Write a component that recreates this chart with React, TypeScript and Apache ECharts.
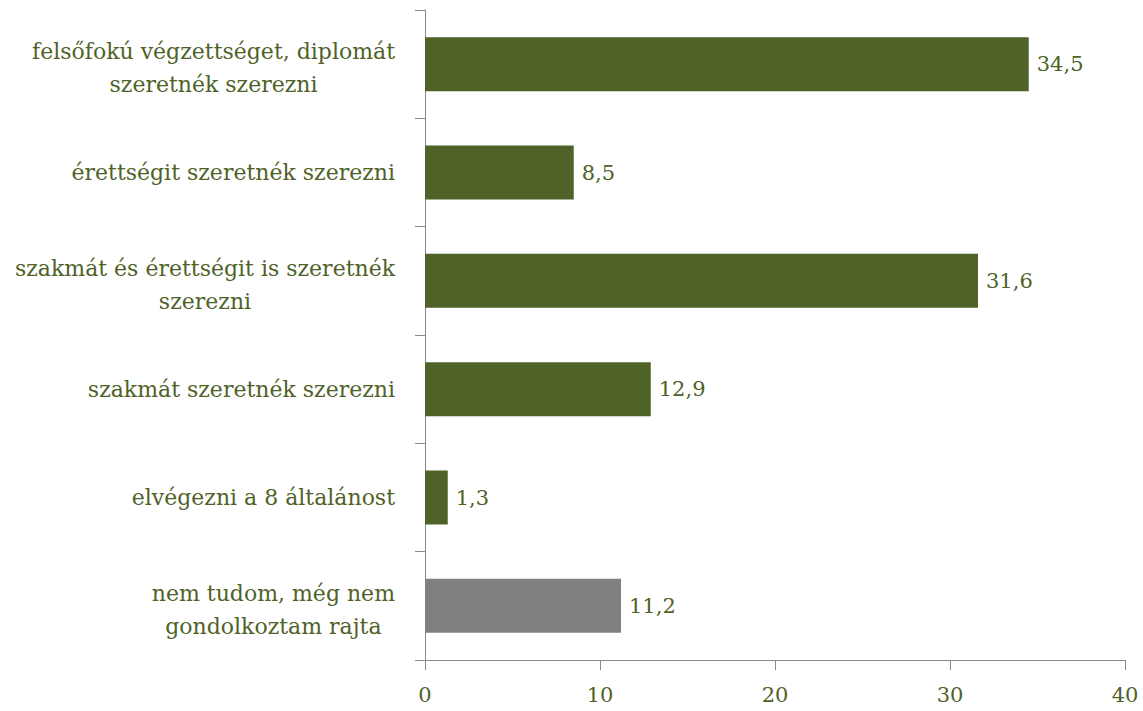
import React, { useEffect, useRef } from "react";
import * as echarts from "echarts";

const categories = [
  ["felsőfokú végzettséget, diplomát", "szeretnék szerezni"],
  ["érettségit szeretnék szerezni"],
  ["szakmát és érettségit is szeretnék", "szerezni"],
  ["szakmát szeretnék szerezni"],
  ["elvégezni a 8 általánost"],
  ["nem tudom, még nem", "gondolkoztam rajta"],
];
const values = [34.5, 8.5, 31.6, 12.9, 1.3, 11.2];
const barColors = ["#4F6228", "#4F6228", "#4F6228", "#4F6228", "#4F6228", "#808080"];
const xTicks = [0, 10, 20, 30, 40];

const TEXT = "#4F6228";
const FONT = "DejaVu Serif";

export default function App() {
  const ref = useRef<HTMLDivElement>(null);
  useEffect(() => {
    const chart = echarts.init(ref.current!, null, { renderer: "svg" });
    const labels = categories.map((l) =>
      l.length > 1 ? "{s| }\n" + l.map((s) => `{c|${s}}`).join("\n") : `{c|${l[0]}}`
    );
    const rc = { align: "center", color: TEXT, fontFamily: FONT, fontSize: 22, lineHeight: 33 };
    chart.setOption({
      animation: false,
      grid: { left: 425, right: 18, top: 10, bottom: 51, containLabel: false },
      xAxis: {
        type: "value",
        min: xTicks[0],
        max: xTicks[xTicks.length - 1],
        interval: 10,
        splitLine: { show: false },
        axisLine: { show: true, lineStyle: { color: "#888888", width: 1 } },
        axisTick: { show: true, length: 10, lineStyle: { color: "#888888" } },
        axisLabel: { color: TEXT, fontFamily: FONT, fontSize: 21, margin: 24 },
      },
      yAxis: {
        type: "category",
        inverse: true,
        data: labels,
        axisLine: { show: true, lineStyle: { color: "#888888", width: 1 } },
        axisTick: { show: true, length: 10, alignWithLabel: false, lineStyle: { color: "#888888" } },
        axisLabel: {
          margin: 30,
          color: TEXT,
          fontFamily: FONT,
          fontSize: 22,
          formatter: (v: string) => v,
          rich: { c: rc, s: { fontSize: 6, lineHeight: 8 } },
        },
      },
      series: [
        {
          type: "bar",
          data: values.map((v, i) => ({ value: v, itemStyle: { color: barColors[i] } })),
          barWidth: 54,
          label: {
            show: true,
            position: "right",
            distance: 8,
            color: TEXT,
            fontFamily: FONT,
            fontSize: 21,
            formatter: (p: any) => String(p.value).replace(".", ","),
          },
        },
      ],
    });
    return () => chart.dispose();
  }, []);
  return <div ref={ref} style={{ width: 1143, height: 711, position: "absolute", left: 0, top: 0 }} />;
}
